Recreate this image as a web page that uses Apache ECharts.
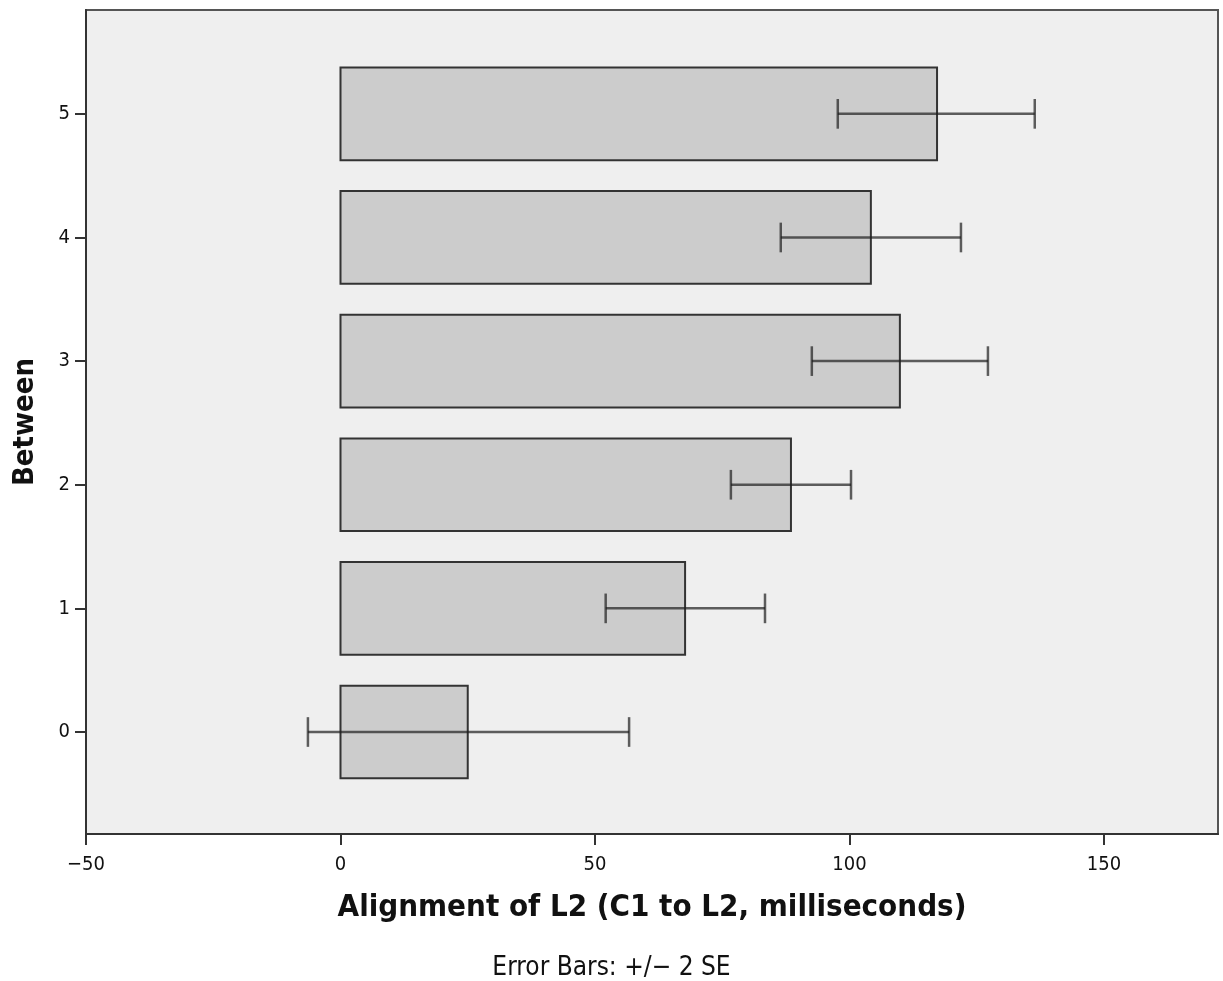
<!DOCTYPE html>
<html>
<head>
<meta charset="utf-8">
<script src="https://cdn.jsdelivr.net/npm/echarts@6/dist/echarts.min.js"></script>
<style>html,body{margin:0;padding:0;background:#fff}#c{width:1223px;height:981px}</style>
</head>
<body>
<div id="c"></div>
<script>
const categories = [0, 1, 2, 3, 4, 5];
const means = [25.0, 67.7, 88.5, 109.9, 104.2, 117.2];
const lowerErr = [-6.4, 52.1, 76.7, 92.6, 86.5, 97.7];
const upperErr = [56.7, 83.4, 100.3, 127.2, 121.9, 136.4];
const xTicks = [-50, 0, 50, 100, 150];
const yTicks = [0, 1, 2, 3, 4, 5];

const FONT = "'DejaVu Sans Condensed', 'DejaVu Sans'";
const barData = categories.map((c, i) => [means[i], c]);
const errData = categories.map((c, i) => [lowerErr[i], upperErr[i], c]);

const chart = echarts.init(document.getElementById('c'), null, {renderer: 'canvas'});
chart.setOption({
  animation: false,
  grid: {left: 86, top: 10, right: 5, bottom: 147, show: true, backgroundColor: '#efefef', borderColor: '#555', borderWidth: 2, containLabel: false, outerBoundsMode: 'none'},
  xAxis: {
    type: 'value', min: -50, max: 172.4,
    name: 'Alignment of L2 (C1 to L2, milliseconds)', nameLocation: 'middle', nameGap: 58,
    nameTextStyle: {fontFamily: FONT, fontWeight: 'bold', fontSize: 31, color: '#111'},
    axisLine: {show: true, onZero: false, lineStyle: {color: '#333', width: 2}},
    axisTick: {show: true, length: 11, lineStyle: {color: '#333', width: 2}, customValues: xTicks},
    axisLabel: {fontFamily: FONT, fontSize: 20, color: '#111', margin: 21, customValues: xTicks,
      formatter: v => (v < 0 ? '\u2212' : '') + Math.abs(v)},
    splitLine: {show: false}
  },
  yAxis: {
    type: 'value', min: -0.825, max: 5.84,
    name: 'Between', nameLocation: 'middle', nameGap: 46, nameRotate: 90,
    nameTextStyle: {fontFamily: FONT, fontWeight: 'bold', fontSize: 29, color: '#111'},
    axisLine: {show: true, onZero: false, lineStyle: {color: '#333', width: 2}},
    axisTick: {show: true, length: 11, lineStyle: {color: '#333', width: 2}, customValues: yTicks},
    axisLabel: {fontFamily: FONT, fontSize: 20, color: '#111', margin: 16, customValues: yTicks},
    splitLine: {show: false}
  },
  title: {
    text: 'Error Bars: +/\u2212 2 SE', left: 'center', top: 955,
    textStyle: {fontFamily: FONT, fontWeight: 'normal', fontSize: 26, color: '#111'},
    padding: 0
  },
  series: [
    {
      type: 'custom', coordinateSystem: 'cartesian2d', data: barData,
      encode: {x: 0, y: 1},
      renderItem: function (params, api) {
        const end = api.coord([api.value(0), api.value(1)]);
        const start = api.coord([0, api.value(1)]);
        const h = api.size([0, 0.75])[1];
        return {
          type: 'rect',
          shape: {x: start[0], y: end[1] - h / 2, width: end[0] - start[0], height: h},
          style: {fill: '#cccccc', stroke: '#333', lineWidth: 2}
        };
      }
    },
    {
      type: 'custom', coordinateSystem: 'cartesian2d', data: errData,
      encode: {x: [0, 1], y: 2},
      z: 3,
      renderItem: function (params, api) {
        const lo = api.coord([api.value(0), api.value(2)]);
        const hi = api.coord([api.value(1), api.value(2)]);
        const cap = api.size([0, 0.24])[1] / 2;
        const st = {stroke: 'rgba(30,30,30,0.7)', lineWidth: 2.5};
        return {
          type: 'group',
          children: [
            {type: 'line', shape: {x1: lo[0], y1: lo[1], x2: hi[0], y2: hi[1]}, style: st},
            {type: 'line', shape: {x1: lo[0], y1: lo[1] - cap, x2: lo[0], y2: lo[1] + cap}, style: st},
            {type: 'line', shape: {x1: hi[0], y1: hi[1] - cap, x2: hi[0], y2: hi[1] + cap}, style: st}
          ]
        };
      }
    }
  ]
});
</script>
</body>
</html>
